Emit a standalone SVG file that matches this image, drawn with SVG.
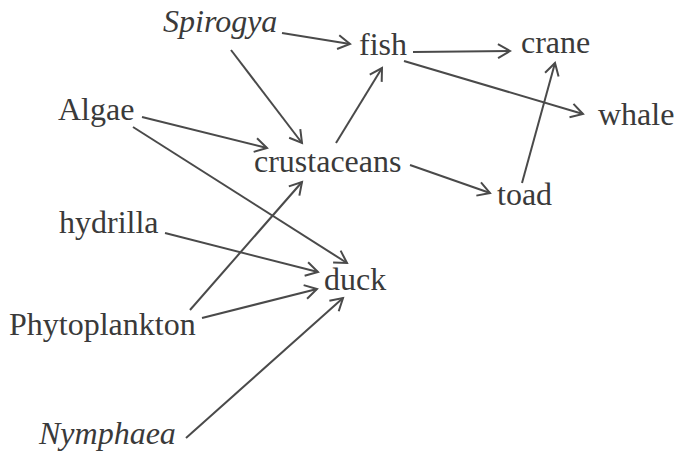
<svg xmlns="http://www.w3.org/2000/svg" width="677" height="456" viewBox="0 0 677 456">
<style>
text{font-family:"Liberation Serif","Times New Roman",serif;font-size:32px;fill:#3a3a3a}
.it{font-style:italic}
.c line{stroke:#4a4a4a;stroke-width:2;fill:none;marker-end:url(#a)}
</style>
<defs>
<marker id="a" markerUnits="userSpaceOnUse" markerWidth="20" markerHeight="20" viewBox="-14 -10 16 20" refX="0" refY="0" orient="auto">
<path d="M-12,-7 L0,0 L-12,7" fill="none" stroke="#4a4a4a" stroke-width="2" stroke-linejoin="miter"/>
</marker>
</defs>
<rect width="677" height="456" fill="#fff"/>
<g class="c" id="connectors">
<line x1="282" y1="33" x2="350" y2="44"/>
<line x1="231" y1="50" x2="302" y2="143"/>
<line x1="336" y1="143" x2="382" y2="68"/>
<line x1="142" y1="117" x2="267" y2="148"/>
<line x1="133" y1="127" x2="347" y2="263"/>
<line x1="165" y1="233" x2="318" y2="272"/>
<line x1="190" y1="310" x2="302" y2="182"/>
<line x1="202" y1="318" x2="317" y2="289"/>
<line x1="186" y1="438" x2="343" y2="298"/>
<line x1="413" y1="52" x2="510" y2="51"/>
<line x1="404" y1="61" x2="583" y2="114"/>
<line x1="410" y1="165" x2="490" y2="193"/>
<line x1="522" y1="183" x2="555" y2="63"/>
</g>
<g id="spirogya"><text class="it" x="163" y="32">Spirogya</text></g>
<g id="fish"><text x="359" y="55">fish</text></g>
<g id="crane"><text x="521" y="53">crane</text></g>
<g id="whale"><text x="598" y="125">whale</text></g>
<g id="algae"><text x="58" y="120">Algae</text></g>
<g id="crustaceans"><text x="254" y="172">crustaceans</text></g>
<g id="toad"><text x="497" y="205">toad</text></g>
<g id="hydrilla"><text x="59" y="233">hydrilla</text></g>
<g id="duck"><text x="324" y="290">duck</text></g>
<g id="phytoplankton"><text x="9" y="335">Phytoplankton</text></g>
<g id="nymphaea"><text class="it" x="39" y="444">Nymphaea</text></g>
</svg>
